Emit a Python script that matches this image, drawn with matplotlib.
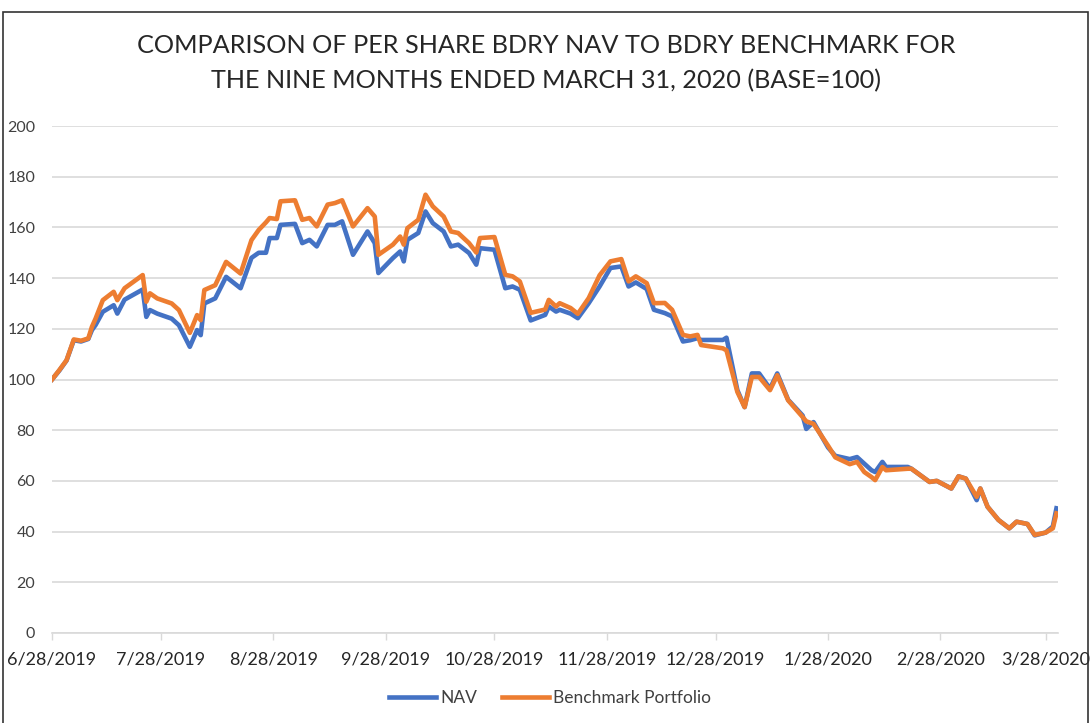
import pandas as pd
import matplotlib
matplotlib.use('Agg')
import matplotlib.pyplot as plt
from matplotlib.patches import Rectangle

plt.rcParams['font.family'] = ['Lato', 'DejaVu Sans']

# Datos (base = 100)
fechas = [
    '2019-06-28', '2019-06-30', '2019-07-02', '2019-07-04', '2019-07-06', '2019-07-08',
    '2019-07-09', '2019-07-10', '2019-07-12', '2019-07-15', '2019-07-16', '2019-07-18',
    '2019-07-23', '2019-07-24', '2019-07-25', '2019-07-27', '2019-07-31', '2019-08-02',
    '2019-08-05', '2019-08-07', '2019-08-08', '2019-08-09', '2019-08-12', '2019-08-15',
    '2019-08-19', '2019-08-22', '2019-08-24', '2019-08-26', '2019-08-27', '2019-08-29',
    '2019-08-30', '2019-09-03', '2019-09-05', '2019-09-07', '2019-09-09', '2019-09-12',
    '2019-09-14', '2019-09-16', '2019-09-19', '2019-09-23', '2019-09-25', '2019-09-26',
    '2019-09-30', '2019-10-02', '2019-10-03', '2019-10-04', '2019-10-07', '2019-10-09',
    '2019-10-11', '2019-10-14', '2019-10-16', '2019-10-18', '2019-10-21', '2019-10-23',
    '2019-10-24', '2019-10-28', '2019-10-31', '2019-11-02', '2019-11-04', '2019-11-07',
    '2019-11-11', '2019-11-12', '2019-11-14', '2019-11-15', '2019-11-18', '2019-11-20',
    '2019-11-23', '2019-11-26', '2019-11-29', '2019-12-02', '2019-12-04', '2019-12-06',
    '2019-12-09', '2019-12-11', '2019-12-14', '2019-12-16', '2019-12-19', '2019-12-21',
    '2019-12-23', '2019-12-24', '2019-12-30', '2019-12-31', '2020-01-03', '2020-01-05',
    '2020-01-07', '2020-01-09', '2020-01-12', '2020-01-14', '2020-01-17', '2020-01-21',
    '2020-01-22', '2020-01-24', '2020-01-28', '2020-01-30', '2020-02-03', '2020-02-05',
    '2020-02-07', '2020-02-09', '2020-02-10', '2020-02-12', '2020-02-13', '2020-02-19',
    '2020-02-20', '2020-02-25', '2020-02-27', '2020-03-02', '2020-03-04', '2020-03-06',
    '2020-03-09', '2020-03-10', '2020-03-12', '2020-03-15', '2020-03-18', '2020-03-20',
    '2020-03-23', '2020-03-25', '2020-03-28', '2020-03-30', '2020-03-31',
]

nav = [
    100, 103.5, 107.5, 115.5, 115, 116,
    119.5, 121.5, 126.7, 129.3, 126, 131.5,
    135.5, 124.7, 127.4, 126, 124, 121.4,
    112.9, 119.5, 117.5, 130, 132, 140.5,
    136, 148, 150, 150, 155.8, 155.8,
    161, 161.4, 153.8, 155.1, 152.5, 161,
    161, 162.4, 149.2, 158.4, 153.8, 142,
    147.9, 150.5, 146.6, 155.1, 157.8, 166.3,
    161.7, 158.4, 152.5, 153.2, 149.9, 145.3,
    151.8, 151.2, 136, 136.7, 135.4, 123.3,
    125.5, 128.8, 126.8, 127.5, 126, 124.2,
    130.1, 136.7, 144, 144.6, 136.7, 138.3,
    135.7, 127.5, 126.2, 124.9, 115, 115.5,
    116.3, 115.6, 115.6, 116.5, 95.8, 89.1,
    102.4, 102.4, 96.4, 102.4, 92, 85.8,
    80.5, 83.2, 73.2, 69.9, 68.6, 69.4,
    66.8, 64.2, 63.5, 67.5, 65.5, 65.5,
    64.8, 59.6, 60, 57, 61.8, 60.9,
    52.4, 57, 49.8, 44.6, 41.3, 43.9,
    43, 38.5, 39.6, 42, 49.2,
]

benchmark = [
    100, 103.7, 107.6, 115.8, 115.3, 116.2,
    120.8, 124, 131.3, 134.6, 131.3, 136,
    141.2, 130.7, 134, 132, 130, 127.4,
    118.4, 125.4, 123.4, 135.3, 137.2, 146.4,
    141.8, 155, 159, 162, 163.7, 163.3,
    170.3, 170.7, 163, 163.7, 160.4, 169,
    169.6, 170.7, 160.4, 167.6, 164.3, 149.2,
    153.2, 156.4, 153.2, 159.7, 163, 172.9,
    168.3, 164.3, 158.4, 157.8, 153.8, 150.1,
    155.8, 156.2, 141.3, 140.7, 138.7, 126.3,
    127.6, 131.4, 128.8, 130.1, 128.2, 125.9,
    132.1, 141.1, 146.6, 147.5, 138.7, 140.7,
    138, 130.1, 130.2, 127.5, 117.6, 117,
    117.6, 113.6, 112.3, 111.5, 95.1, 89.1,
    101, 101, 95.8, 101.7, 91.8, 85.2,
    83.5, 82.5, 73.9, 69.3, 66.6, 67.5,
    63.5, 61.5, 60.3, 65.5, 64.2, 64.8,
    64.8, 59.6, 60, 57, 61.8, 60.9,
    53.7, 57, 49.8, 44.6, 41.3, 43.9,
    43, 38.7, 39.6, 41.3, 47.2,
]

fechas_ticks = ['2019-06-28', '2019-07-28', '2019-08-28', '2019-09-28', '2019-10-28',
                '2019-11-28', '2019-12-28', '2020-01-28', '2020-02-28', '2020-03-28']
etiquetas_ticks = ['6/28/2019', '7/28/2019', '8/28/2019', '9/28/2019', '10/28/2019',
                   '11/28/2019', '12/28/2019', '1/28/2020', '2/28/2020', '3/28/2020']

df = pd.DataFrame({'fecha': pd.to_datetime(fechas), 'nav': nav, 'bench': benchmark})

# Colores estilo Excel
color_nav = '#4472C4'
color_bench = '#ED7D31'
color_grid = '#D9D9D9'

fig = plt.figure(figsize=(10.91, 7.23), dpi=100)
ax = fig.add_axes([0.0477, 0.1245, 0.9223, 0.7012])

ax.plot(df['fecha'], df['nav'], color=color_nav, linewidth=3.3, label='NAV',
        solid_joinstyle='round', zorder=3)
ax.plot(df['fecha'], df['bench'], color=color_bench, linewidth=3.3, label='Benchmark Portfolio',
        solid_joinstyle='round', zorder=4)

ax.set_ylim(0, 200)
ax.set_yticks(range(0, 201, 20))
ax.set_xlim(pd.Timestamp('2019-06-28'), pd.Timestamp('2020-03-31 12:00'))
ax.set_xticks(pd.to_datetime(fechas_ticks))
ax.set_xticklabels(etiquetas_ticks)

ax.grid(axis='y', color=color_grid, linewidth=1.2)
ax.grid(axis='x', visible=False)
ax.set_axisbelow(True)
for lado in ['top', 'right', 'left']:
    ax.spines[lado].set_visible(False)
ax.spines['bottom'].set_color(color_grid)
ax.spines['bottom'].set_linewidth(1.2)

ax.tick_params(axis='y', length=0, pad=12, labelsize=11.5, labelcolor='#404040')
ax.tick_params(axis='x', length=5, width=1, color=color_grid, pad=8,
               labelsize=13, labelcolor='#262626')

fig.text(0.5005, 0.937, 'COMPARISON OF PER SHARE BDRY NAV TO BDRY BENCHMARK FOR',
         ha='center', va='center', fontsize=18.2, color='#262626')
fig.text(0.5005, 0.889, 'THE NINE MONTHS ENDED MARCH 31, 2020 (BASE=100)',
         ha='center', va='center', fontsize=18.2, color='#262626')

ax.legend(loc='center', bbox_to_anchor=(0.495, -0.128), ncol=2, frameon=False,
          fontsize=12.5, handlelength=2.7, columnspacing=1.4, handletextpad=0.25,
          labelcolor='#404040')

# Marco exterior
fig.add_artist(Rectangle((0.0027, -0.01), 0.9945, 0.9934, transform=fig.transFigure,
                         fill=False, edgecolor='#333333', linewidth=1.2))

fig.savefig('out.png', dpi=100)
